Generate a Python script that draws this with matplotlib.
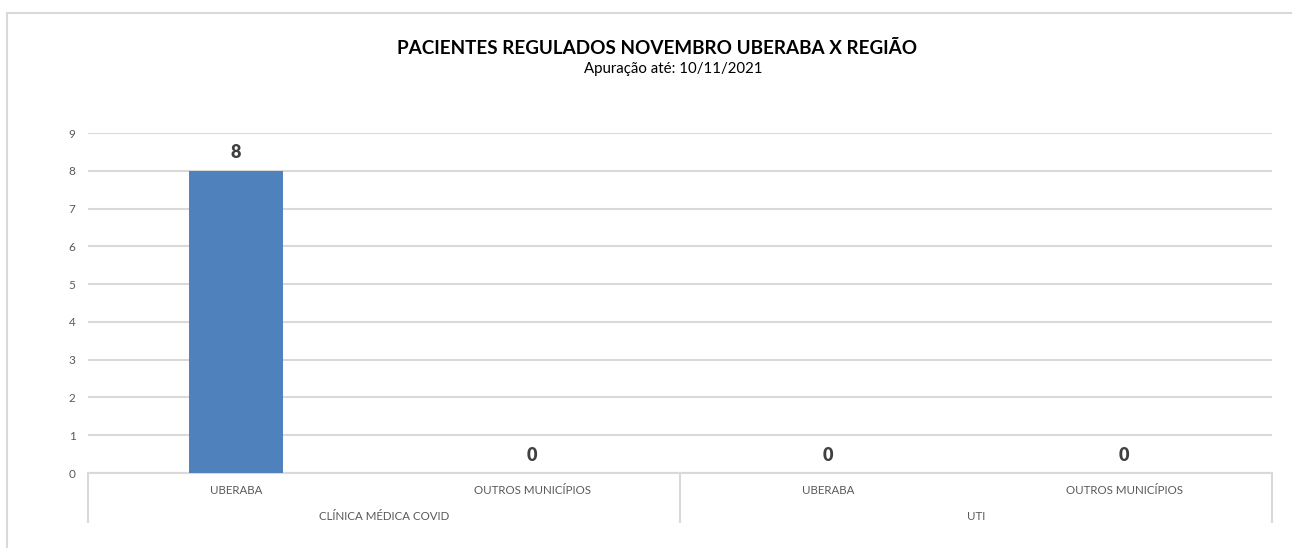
import matplotlib.pyplot as plt
from matplotlib.patches import Rectangle

plt.rcParams['font.family'] = ['Lato', 'DejaVu Sans']

# dados
categorias = ['UBERABA', 'OUTROS MUNICÍPIOS', 'UBERABA', 'OUTROS MUNICÍPIOS']
grupos = ['CLÍNICA MÉDICA COVID', 'UTI']
valores = [8, 0, 0, 0]
y_ticks = [0, 1, 2, 3, 4, 5, 6, 7, 8, 9]

cinza_txt = '#595959'
cinza_linha = '#d9d9d9'
azul = '#4f81bd'

fig = plt.figure(figsize=(12.92, 5.48), dpi=100)
# moldura do grafico
fig.patches.append(Rectangle((7 / 1292, -0.1), 1.2, 1 - 13 / 548 + 0.1, transform=fig.transFigure,
                             fill=False, edgecolor=cinza_linha, linewidth=1.5))

ax = fig.add_axes([88 / 1292, 1 - 473 / 548, 1184 / 1292, 340 / 548])
x = list(range(len(categorias)))
ax.bar(x, valores, width=0.315, color=azul, zorder=3)

ax.set_xlim(-0.5, len(categorias) - 0.5)
ax.set_ylim(0, 9)
ax.set_yticks(y_ticks)
ax.set_yticklabels([str(t) for t in y_ticks], color=cinza_txt, fontsize=8.5)
ax.tick_params(axis='y', length=0, pad=9)
ax.set_xticks([])
ax.grid(axis='y', color=cinza_linha, linewidth=1.5, zorder=0)
for s in ['top', 'right', 'left']:
    ax.spines[s].set_visible(False)
ax.spines['bottom'].set_color(cinza_linha)
ax.spines['bottom'].set_linewidth(1.5)

# rotulos de valor
for xi, v in zip(x, valores):
    ax.text(xi, v + 0.25, str(v), ha='center', va='bottom', fontsize=13, fontweight='heavy',
            color='#404040', zorder=4)

# eixo de categorias em dois niveis
tr = ax.get_xaxis_transform()
for xi, c in zip(x, categorias):
    ax.text(xi, -0.05, c, transform=tr, ha='center', va='center', fontsize=8.3, color=cinza_txt,
            clip_on=False)
for i, g in enumerate(grupos):
    ax.text(2 * i + 0.5, -0.1265, g, transform=tr, ha='center', va='center', fontsize=8.3,
            color=cinza_txt, clip_on=False)
for xs in [-0.5, 1.5, 3.5]:
    ax.plot([xs, xs], [0, -0.144], transform=tr, color=cinza_linha, linewidth=1.5, clip_on=False)

fig.text(657 / 1292, 1 - 48 / 548, 'PACIENTES REGULADOS NOVEMBRO UBERABA X REGIÃO', ha='center',
         va='center', fontsize=13.6, fontweight='bold', color='#000000')
fig.text(673 / 1292, 1 - 69.5 / 548, 'Apuração até: 10/11/2021', ha='center', va='center',
         fontsize=10.8, color='#000000')

fig.savefig('out.png', dpi=100)
